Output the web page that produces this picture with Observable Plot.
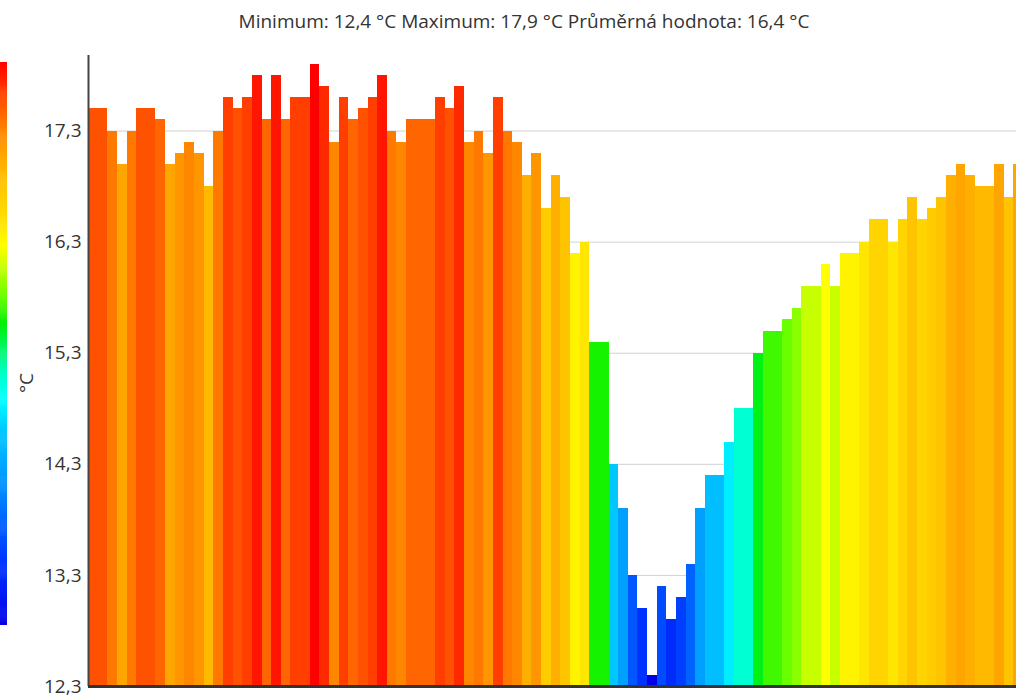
<!DOCTYPE html>
<html>
<head>
<meta charset="utf-8">
<script src="https://cdn.jsdelivr.net/npm/d3@7"></script>
<script src="https://cdn.jsdelivr.net/npm/@observablehq/plot@0.6"></script>
<style>
  html, body { margin: 0; padding: 0; background: #fff; overflow: hidden; width: 1016px; height: 696px; }
  #wrap { position: relative; width: 1016px; height: 696px; overflow: hidden; font-family: "Open Sans", sans-serif; color: #333; }
  #title { position: absolute; left: 0; top: 8px; width: 1048px; text-align: center; font-size: 19px; white-space: nowrap; }
  #chart { position: absolute; left: 0; top: 0; width: 1016px; height: 696px; overflow: hidden; }
  #scale { position: absolute; left: 0; top: 62px; }
  #unit { position: absolute; left: 26px; top: 383px; transform: translate(-50%, -50%) rotate(-90deg); font-size: 19px; white-space: nowrap; }
</style>
</head>
<body>
<div id="wrap">
  <div id="chart"></div>
  <div id="scale"></div>
  <div id="unit">°C</div>
  <div id="title"></div>
</div>
<script>
// Measured temperatures (°C), one bar per reading
const temperatures = [
  17.5, 17.5, 17.3, 17.0, 17.3, 17.5, 17.5, 17.4, 17.0, 17.1,
  17.2, 17.1, 16.8, 17.3, 17.6, 17.5, 17.6, 17.8, 17.4, 17.8,
  17.4, 17.6, 17.6, 17.9, 17.7, 17.2, 17.6, 17.4, 17.5, 17.6,
  17.8, 17.3, 17.2, 17.4, 17.4, 17.4, 17.6, 17.5, 17.7, 17.2,
  17.3, 17.1, 17.6, 17.3, 17.2, 16.9, 17.1, 16.6, 16.9, 16.7,
  16.2, 16.3, 15.4, 15.4, 14.3, 13.9, 13.3, 13.0, 12.4, 13.2,
  12.9, 13.1, 13.4, 13.9, 14.2, 14.2, 14.5, 14.8, 14.8, 15.3,
  15.5, 15.5, 15.6, 15.7, 15.9, 15.9, 16.1, 15.9, 16.2, 16.2,
  16.3, 16.5, 16.5, 16.3, 16.5, 16.7, 16.5, 16.6, 16.7, 16.9,
  17.0, 16.9, 16.8, 16.8, 17.0, 16.7, 17.0
];

// Summary shown in the header
const summaryLabels = ["Minimum", "Maximum", "Průměrná hodnota"];
const summaryValues = ["12,4", "17,9", "16,4"];
const unit = "°C";

// Value axis
const yTicks = [12.3, 13.3, 14.3, 15.3, 16.3, 17.3];
const yDomain = [12.3, 17.98];

// Colour ramp (blue → cyan → green → yellow → orange → red)
const colorStops = [12.4, 13.0, 13.9, 14.3, 14.6, 14.85, 15.35, 15.6, 15.9, 16.1, 16.35, 16.7, 17.0, 17.3, 17.55, 17.9];
const colorRange = ["#0000e6", "#0033ff", "#00a0ff", "#00c8ff", "#00ffff", "#00ffc8", "#00f000", "#6aff00", "#c8ff00", "#ffff00", "#ffe000", "#ffc400", "#ffa500", "#ff7800", "#ff4800", "#ff0000"];

const colorOptions = { type: "linear", domain: colorStops, range: colorRange, interpolate: "rgb" };
const comma = (d) => d.toFixed(1).replace(".", ",");

document.getElementById("title").textContent =
  summaryLabels.map((l, i) => `${l}: ${summaryValues[i]} ${unit}`).join(" ");

const rows = temperatures.map((t, i) => ({ i, t }));

// The series runs past the right edge of the view; bars beyond it are cut off
const barWidth = 9.64;
const xStart = 88;

const chart = Plot.plot({
  width: 1016,
  height: 696,
  marginLeft: xStart,
  marginRight: 0,
  marginTop: 55,
  marginBottom: 10,
  style: { fontFamily: "Open Sans, sans-serif", fontSize: "19px", color: "#333", background: "transparent" },
  x: { domain: [0, temperatures.length], range: [xStart, xStart + barWidth * temperatures.length], axis: null },
  y: { domain: yDomain, axis: null },
  color: colorOptions,
  marks: [
    Plot.gridY(yTicks, { stroke: "#d2d2d2", strokeOpacity: 1, strokeWidth: 1 }),
    Plot.rect(rows, {
      x1: "i",
      x2: (d) => d.i + 1,
      y1: () => yDomain[0],
      y2: "t",
      fill: "t",
      shapeRendering: "crispEdges"
    }),
    Plot.axisY(yTicks, {
      tickSize: 0,
      tickPadding: 7,
      tickFormat: comma,
      fontSize: 19,
      fill: "#333",
      label: null
    }),
    Plot.ruleX([0], { y1: () => yDomain[0], y2: () => yDomain[1], stroke: "#444", strokeWidth: 2 }),
    Plot.ruleY([yDomain[0]], { stroke: "#333", strokeWidth: 3 })
  ]
});
document.getElementById("chart").appendChild(chart);

// Vertical colour scale on the left edge
const scaleDomain = [d3.min(temperatures), d3.max(temperatures)];
const step = 0.01;
const slices = d3.range(scaleDomain[0], scaleDomain[1], step);
const scaleBar = Plot.plot({
  width: 7,
  height: 563,
  margin: 0,
  style: { background: "transparent" },
  x: { domain: [0, 1], axis: null },
  y: { domain: scaleDomain, axis: null },
  color: colorOptions,
  marks: [
    Plot.rect(slices, {
      x1: () => 0,
      x2: () => 1,
      y1: (d) => d,
      y2: (d) => Math.min(d + step * 1.5, scaleDomain[1]),
      fill: (d) => d
    })
  ]
});
document.getElementById("scale").appendChild(scaleBar);
</script>
</body>
</html>
